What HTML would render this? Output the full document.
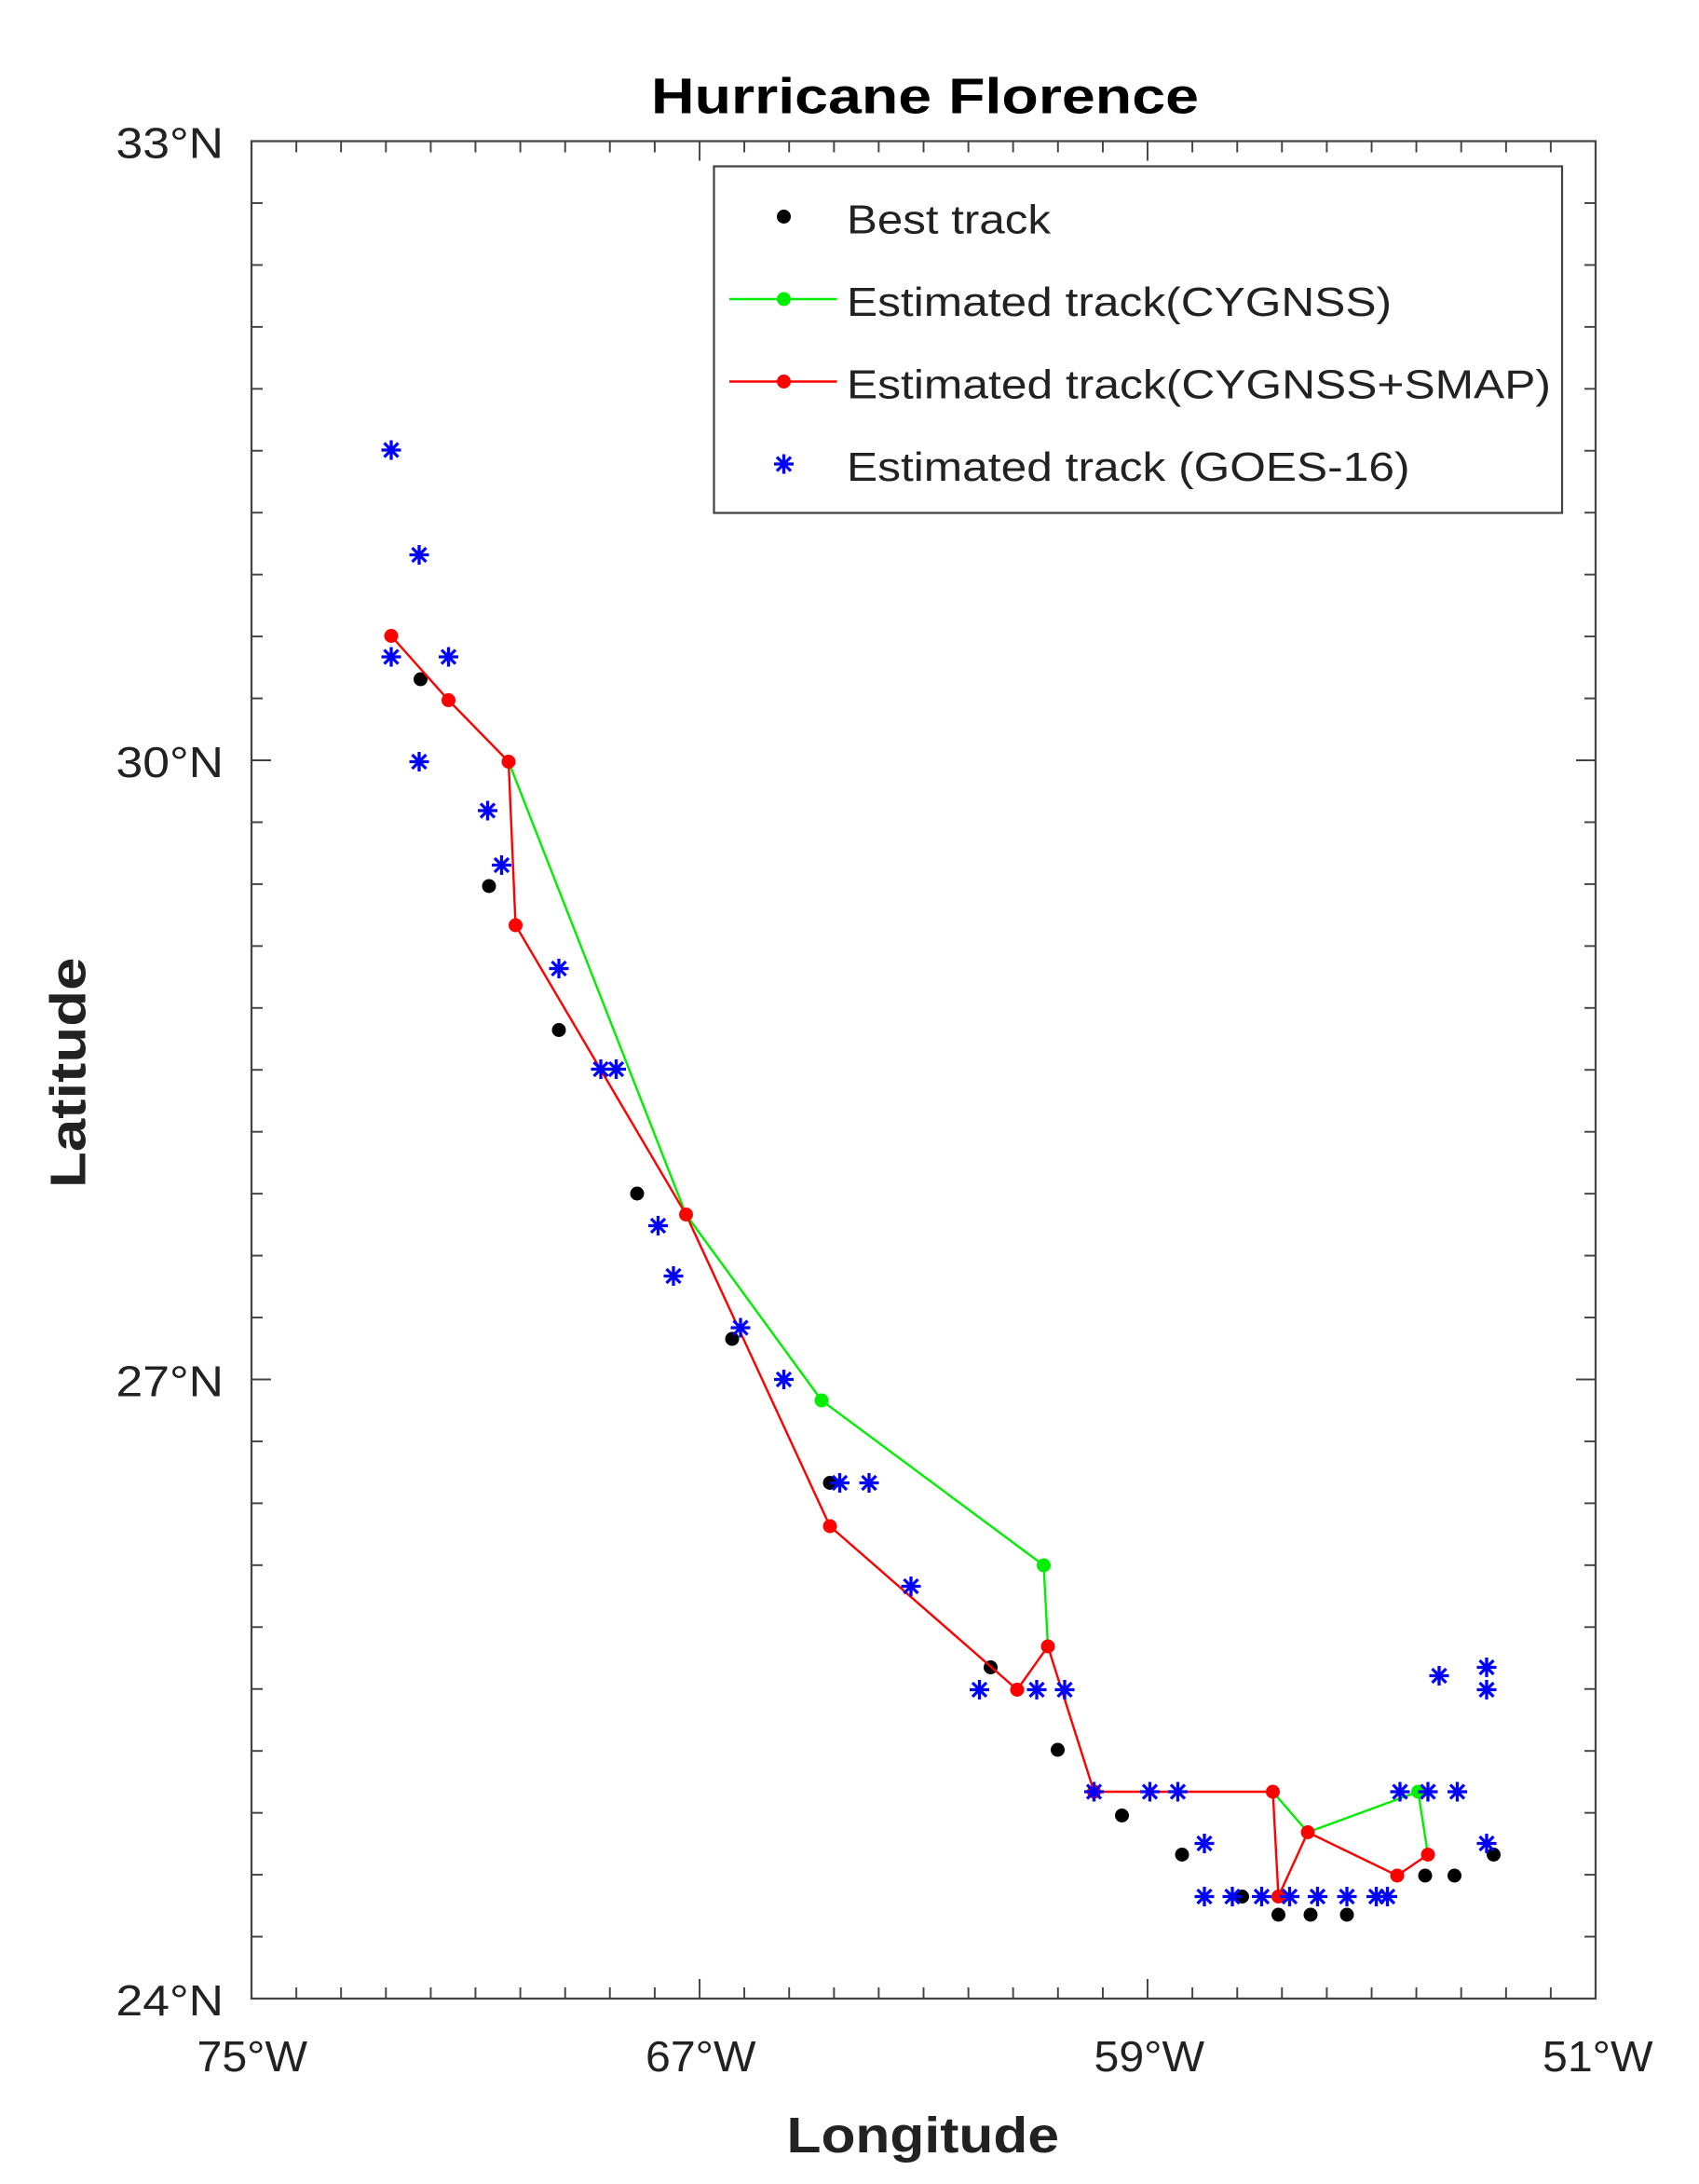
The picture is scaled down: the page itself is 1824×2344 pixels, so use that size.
<!DOCTYPE html>
<html><head><meta charset="utf-8"><style>html,body{margin:0;padding:0;background:#fff}svg{display:block}</style></head>
<body>
<svg width="1824" height="2344" viewBox="0 0 1216 1562.67" xmlns="http://www.w3.org/2000/svg" font-family="Liberation Sans, sans-serif">
<defs>
<g id="st" stroke="#0000ff" stroke-width="2.2"><line x1="-7" y1="0" x2="7" y2="0"/><line x1="0" y1="-7" x2="0" y2="7"/><line x1="-5" y1="-5" x2="5" y2="5"/><line x1="-5" y1="5" x2="5" y2="-5"/></g>
</defs>
<rect width="1216" height="1563" fill="#fff"/>
<text x="466" y="81" font-size="36" font-weight="bold" fill="#000" textLength="392" lengthAdjust="spacingAndGlyphs">Hurricane Florence</text>
<rect x="180" y="101" width="962" height="1329" fill="none" stroke="#444" stroke-width="1.5"/>
<g stroke="#444" stroke-width="1.3">
<line x1="180" y1="145.3" x2="188" y2="145.3"/><line x1="180" y1="189.6" x2="188" y2="189.6"/><line x1="180" y1="233.9" x2="188" y2="233.9"/><line x1="180" y1="278.2" x2="188" y2="278.2"/><line x1="180" y1="322.5" x2="188" y2="322.5"/><line x1="180" y1="366.8" x2="188" y2="366.8"/><line x1="180" y1="411.1" x2="188" y2="411.1"/><line x1="180" y1="455.4" x2="188" y2="455.4"/><line x1="180" y1="499.7" x2="188" y2="499.7"/><line x1="180" y1="544" x2="194" y2="544"/>
<line x1="180" y1="588.3" x2="188" y2="588.3"/><line x1="180" y1="632.6" x2="188" y2="632.6"/><line x1="180" y1="676.9" x2="188" y2="676.9"/><line x1="180" y1="721.2" x2="188" y2="721.2"/><line x1="180" y1="765.5" x2="188" y2="765.5"/><line x1="180" y1="809.8" x2="188" y2="809.8"/><line x1="180" y1="854.1" x2="188" y2="854.1"/><line x1="180" y1="898.4" x2="188" y2="898.4"/><line x1="180" y1="942.7" x2="188" y2="942.7"/><line x1="180" y1="987" x2="194" y2="987"/>
<line x1="180" y1="1031.3" x2="188" y2="1031.3"/><line x1="180" y1="1075.6" x2="188" y2="1075.6"/><line x1="180" y1="1119.9" x2="188" y2="1119.9"/><line x1="180" y1="1164.2" x2="188" y2="1164.2"/><line x1="180" y1="1208.5" x2="188" y2="1208.5"/><line x1="180" y1="1252.8" x2="188" y2="1252.8"/><line x1="180" y1="1297.1" x2="188" y2="1297.1"/><line x1="180" y1="1341.4" x2="188" y2="1341.4"/><line x1="180" y1="1385.7" x2="188" y2="1385.7"/>
<line x1="1142" y1="145.3" x2="1134" y2="145.3"/><line x1="1142" y1="189.6" x2="1134" y2="189.6"/><line x1="1142" y1="233.9" x2="1134" y2="233.9"/><line x1="1142" y1="278.2" x2="1134" y2="278.2"/><line x1="1142" y1="322.5" x2="1134" y2="322.5"/><line x1="1142" y1="366.8" x2="1134" y2="366.8"/><line x1="1142" y1="411.1" x2="1134" y2="411.1"/><line x1="1142" y1="455.4" x2="1134" y2="455.4"/><line x1="1142" y1="499.7" x2="1134" y2="499.7"/><line x1="1142" y1="544" x2="1128" y2="544"/>
<line x1="1142" y1="588.3" x2="1134" y2="588.3"/><line x1="1142" y1="632.6" x2="1134" y2="632.6"/><line x1="1142" y1="676.9" x2="1134" y2="676.9"/><line x1="1142" y1="721.2" x2="1134" y2="721.2"/><line x1="1142" y1="765.5" x2="1134" y2="765.5"/><line x1="1142" y1="809.8" x2="1134" y2="809.8"/><line x1="1142" y1="854.1" x2="1134" y2="854.1"/><line x1="1142" y1="898.4" x2="1134" y2="898.4"/><line x1="1142" y1="942.7" x2="1134" y2="942.7"/><line x1="1142" y1="987" x2="1128" y2="987"/>
<line x1="1142" y1="1031.3" x2="1134" y2="1031.3"/><line x1="1142" y1="1075.6" x2="1134" y2="1075.6"/><line x1="1142" y1="1119.9" x2="1134" y2="1119.9"/><line x1="1142" y1="1164.2" x2="1134" y2="1164.2"/><line x1="1142" y1="1208.5" x2="1134" y2="1208.5"/><line x1="1142" y1="1252.8" x2="1134" y2="1252.8"/><line x1="1142" y1="1297.1" x2="1134" y2="1297.1"/><line x1="1142" y1="1341.4" x2="1134" y2="1341.4"/><line x1="1142" y1="1385.7" x2="1134" y2="1385.7"/>
<line x1="212.1" y1="1430" x2="212.1" y2="1422"/><line x1="244.1" y1="1430" x2="244.1" y2="1422"/><line x1="276.2" y1="1430" x2="276.2" y2="1422"/><line x1="308.3" y1="1430" x2="308.3" y2="1422"/><line x1="340.3" y1="1430" x2="340.3" y2="1422"/><line x1="372.4" y1="1430" x2="372.4" y2="1422"/><line x1="404.5" y1="1430" x2="404.5" y2="1422"/><line x1="436.5" y1="1430" x2="436.5" y2="1422"/><line x1="468.6" y1="1430" x2="468.6" y2="1422"/><line x1="500.7" y1="1430" x2="500.7" y2="1416"/>
<line x1="532.7" y1="1430" x2="532.7" y2="1422"/><line x1="564.8" y1="1430" x2="564.8" y2="1422"/><line x1="596.9" y1="1430" x2="596.9" y2="1422"/><line x1="628.9" y1="1430" x2="628.9" y2="1422"/><line x1="661" y1="1430" x2="661" y2="1422"/><line x1="693.1" y1="1430" x2="693.1" y2="1422"/><line x1="725.1" y1="1430" x2="725.1" y2="1422"/><line x1="757.2" y1="1430" x2="757.2" y2="1422"/><line x1="789.3" y1="1430" x2="789.3" y2="1422"/><line x1="821.3" y1="1430" x2="821.3" y2="1416"/>
<line x1="853.4" y1="1430" x2="853.4" y2="1422"/><line x1="885.5" y1="1430" x2="885.5" y2="1422"/><line x1="917.5" y1="1430" x2="917.5" y2="1422"/><line x1="949.6" y1="1430" x2="949.6" y2="1422"/><line x1="981.7" y1="1430" x2="981.7" y2="1422"/><line x1="1013.7" y1="1430" x2="1013.7" y2="1422"/><line x1="1045.8" y1="1430" x2="1045.8" y2="1422"/><line x1="1077.9" y1="1430" x2="1077.9" y2="1422"/><line x1="1109.9" y1="1430" x2="1109.9" y2="1422"/>
<line x1="212.1" y1="101" x2="212.1" y2="109"/><line x1="244.1" y1="101" x2="244.1" y2="109"/><line x1="276.2" y1="101" x2="276.2" y2="109"/><line x1="308.3" y1="101" x2="308.3" y2="109"/><line x1="340.3" y1="101" x2="340.3" y2="109"/><line x1="372.4" y1="101" x2="372.4" y2="109"/><line x1="404.5" y1="101" x2="404.5" y2="109"/><line x1="436.5" y1="101" x2="436.5" y2="109"/><line x1="468.6" y1="101" x2="468.6" y2="109"/><line x1="500.7" y1="101" x2="500.7" y2="115"/>
<line x1="532.7" y1="101" x2="532.7" y2="109"/><line x1="564.8" y1="101" x2="564.8" y2="109"/><line x1="596.9" y1="101" x2="596.9" y2="109"/><line x1="628.9" y1="101" x2="628.9" y2="109"/><line x1="661" y1="101" x2="661" y2="109"/><line x1="693.1" y1="101" x2="693.1" y2="109"/><line x1="725.1" y1="101" x2="725.1" y2="109"/><line x1="757.2" y1="101" x2="757.2" y2="109"/><line x1="789.3" y1="101" x2="789.3" y2="109"/><line x1="821.3" y1="101" x2="821.3" y2="115"/>
<line x1="853.4" y1="101" x2="853.4" y2="109"/><line x1="885.5" y1="101" x2="885.5" y2="109"/><line x1="917.5" y1="101" x2="917.5" y2="109"/><line x1="949.6" y1="101" x2="949.6" y2="109"/><line x1="981.7" y1="101" x2="981.7" y2="109"/><line x1="1013.7" y1="101" x2="1013.7" y2="109"/><line x1="1045.8" y1="101" x2="1045.8" y2="109"/><line x1="1077.9" y1="101" x2="1077.9" y2="109"/><line x1="1109.9" y1="101" x2="1109.9" y2="109"/>
</g>
<g font-size="31" fill="#222">
<text x="83" y="113" textLength="77" lengthAdjust="spacingAndGlyphs">33°N</text>
<text x="83" y="556" textLength="77" lengthAdjust="spacingAndGlyphs">30°N</text>
<text x="83" y="999" textLength="77" lengthAdjust="spacingAndGlyphs">27°N</text>
<text x="83" y="1442" textLength="77" lengthAdjust="spacingAndGlyphs">24°N</text>
<text x="141" y="1482" textLength="79" lengthAdjust="spacingAndGlyphs">75°W</text>
<text x="462" y="1482" textLength="79" lengthAdjust="spacingAndGlyphs">67°W</text>
<text x="783" y="1482" textLength="79" lengthAdjust="spacingAndGlyphs">59°W</text>
<text x="1104" y="1482" textLength="79" lengthAdjust="spacingAndGlyphs">51°W</text>
</g>
<text x="563" y="1540" font-size="36" font-weight="bold" fill="#222" textLength="195" lengthAdjust="spacingAndGlyphs">Longitude</text>
<text transform="translate(61,850) rotate(-90)" font-size="36" font-weight="bold" fill="#222" textLength="165" lengthAdjust="spacingAndGlyphs">Latitude</text>
<polyline fill="none" stroke="#00ee00" stroke-width="1.6" points="364,545 491,869 588,1002 747,1120 750,1178"/>
<polyline fill="none" stroke="#00ee00" stroke-width="1.6" points="911,1282 936,1311 1015,1282 1022,1327"/>
<g fill="#00ee00"><circle cx="588" cy="1002" r="5"/><circle cx="747" cy="1120" r="5"/><circle cx="1015" cy="1282" r="5"/></g>
<g fill="#000">
<circle cx="301" cy="486" r="5"/><circle cx="350" cy="634" r="5"/><circle cx="400" cy="737" r="5"/><circle cx="456" cy="854" r="5"/><circle cx="524" cy="958" r="5"/><circle cx="594" cy="1061" r="5"/><circle cx="709" cy="1193" r="5"/><circle cx="757" cy="1252" r="5"/><circle cx="803" cy="1299" r="5"/><circle cx="846" cy="1327" r="5"/><circle cx="889" cy="1357" r="5"/><circle cx="915" cy="1370" r="5"/><circle cx="938" cy="1370" r="5"/><circle cx="964" cy="1370" r="5"/><circle cx="1020" cy="1342" r="5"/><circle cx="1041" cy="1342" r="5"/><circle cx="1069" cy="1327" r="5"/>
</g>
<polyline fill="none" stroke="#ff0000" stroke-width="1.6" points="280,455 321,501 364,545 369,662 491,869 594,1092 728,1209 750,1178 783,1282 911,1282 915,1357 936,1311 1000,1342 1022,1327"/>
<g fill="#ff0000">
<circle cx="280" cy="455" r="5"/><circle cx="321" cy="501" r="5"/><circle cx="364" cy="545" r="5"/><circle cx="369" cy="662" r="5"/><circle cx="491" cy="869" r="5"/><circle cx="594" cy="1092" r="5"/><circle cx="728" cy="1209" r="5"/><circle cx="750" cy="1178" r="5"/><circle cx="783" cy="1282" r="5"/><circle cx="911" cy="1282" r="5"/><circle cx="915" cy="1357" r="5"/><circle cx="936" cy="1311" r="5"/><circle cx="1000" cy="1342" r="5"/><circle cx="1022" cy="1327" r="5"/>
</g>
<g>
<use href="#st" x="280" y="322"/><use href="#st" x="300" y="397"/><use href="#st" x="280" y="470"/><use href="#st" x="321" y="470"/><use href="#st" x="300" y="545"/><use href="#st" x="349" y="580"/><use href="#st" x="359" y="619"/><use href="#st" x="400" y="693"/><use href="#st" x="430" y="765"/><use href="#st" x="441" y="765"/><use href="#st" x="471" y="877"/><use href="#st" x="482" y="913"/><use href="#st" x="530" y="950"/><use href="#st" x="561" y="987"/><use href="#st" x="601" y="1061"/><use href="#st" x="622" y="1061"/><use href="#st" x="652" y="1135"/><use href="#st" x="701" y="1209"/><use href="#st" x="742" y="1209"/><use href="#st" x="762" y="1209"/><use href="#st" x="783" y="1282"/><use href="#st" x="823" y="1282"/><use href="#st" x="843" y="1282"/><use href="#st" x="862" y="1319"/><use href="#st" x="862" y="1357"/><use href="#st" x="882" y="1357"/><use href="#st" x="903" y="1357"/><use href="#st" x="923" y="1357"/><use href="#st" x="943" y="1357"/><use href="#st" x="964" y="1357"/><use href="#st" x="985" y="1357"/><use href="#st" x="993" y="1357"/><use href="#st" x="1002" y="1282"/><use href="#st" x="1022" y="1282"/><use href="#st" x="1043" y="1282"/><use href="#st" x="1030" y="1199"/><use href="#st" x="1064" y="1193"/><use href="#st" x="1064" y="1209"/><use href="#st" x="1064" y="1319"/>
</g>
<rect x="511" y="119" width="607" height="248" fill="#fff" stroke="#444" stroke-width="1.5"/>
<circle cx="561" cy="155" r="5" fill="#000"/>
<line x1="522" y1="214" x2="599" y2="214" stroke="#00ee00" stroke-width="1.6"/><circle cx="561" cy="214" r="5" fill="#00ee00"/>
<line x1="522" y1="273" x2="599" y2="273" stroke="#ff0000" stroke-width="1.6"/><circle cx="561" cy="273" r="5" fill="#ff0000"/>
<use href="#st" x="561" y="332"/>
<g font-size="29" fill="#222">
<text x="606" y="167" textLength="146" lengthAdjust="spacingAndGlyphs">Best track</text>
<text x="606" y="226" textLength="390" lengthAdjust="spacingAndGlyphs">Estimated track(CYGNSS)</text>
<text x="606" y="285" textLength="504" lengthAdjust="spacingAndGlyphs">Estimated track(CYGNSS+SMAP)</text>
<text x="606" y="344" textLength="403" lengthAdjust="spacingAndGlyphs">Estimated track (GOES-16)</text>
</g>
</svg>
</body></html>
